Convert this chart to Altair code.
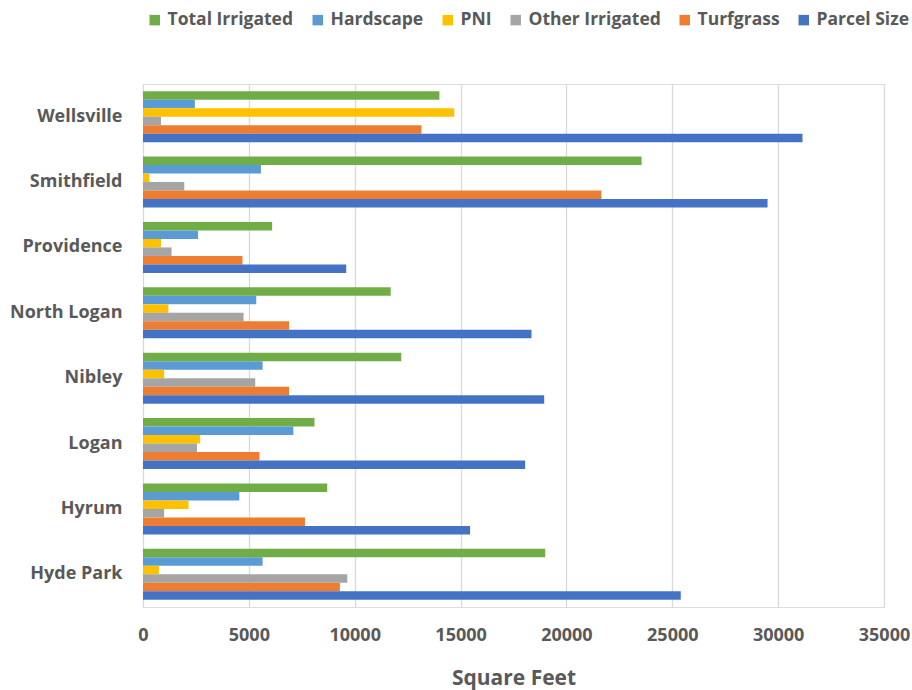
import altair as alt
import pandas as pd

cities = ["Wellsville", "Smithfield", "Providence", "North Logan", "Nibley", "Logan", "Hyrum", "Hyde Park"]
series = ["Total Irrigated", "Hardscape", "PNI", "Other Irrigated", "Turfgrass", "Parcel Size"]
colors = ["#70AD47", "#5B9BD5", "#FFC000", "#A5A5A5", "#ED7D31", "#4472C4"]

total_irrigated = [14000, 23550, 6100, 11700, 12200, 8100, 8700, 19000]
hardscape = [2450, 5570, 2600, 5350, 5650, 7100, 4550, 5650]
pni = [14700, 300, 850, 1200, 1000, 2700, 2150, 750]
other_irrigated = [850, 1950, 1350, 4750, 5300, 2550, 1000, 9650]
turfgrass = [13150, 21650, 4700, 6900, 6900, 5500, 7650, 9300]
parcel_size = [31150, 29500, 9600, 18350, 18950, 18050, 15450, 25400]

cols = [total_irrigated, hardscape, pni, other_irrigated, turfgrass, parcel_size]
rows = []
for s, vals in zip(series, cols):
    for c, v in zip(cities, vals):
        rows.append({"City": c, "Series": s, "Value": v})
df = pd.DataFrame(rows)

FONT = "Open Sans"
TXT = "#595959"

chart = alt.Chart(df).mark_bar().encode(
    y=alt.Y("City:N", sort=cities,
            scale=alt.Scale(paddingInner=0.22, paddingOuter=0.11),
            axis=alt.Axis(title=None, domain=False, ticks=False, labelPadding=21,
                          labelFont=FONT, labelFontSize=18, labelFontWeight="bold",
                          labelColor=TXT)),
    yOffset=alt.YOffset("Series:N", sort=series, scale=alt.Scale(paddingInner=0, paddingOuter=0)),
    x=alt.X("Value:Q", scale=alt.Scale(domain=[0, 35000]),
            axis=alt.Axis(title="Square Feet", values=[0, 5000, 10000, 15000, 20000, 25000, 30000, 35000],
                          format="d", domain=False, ticks=False, labelPadding=19, labelFlush=False,
                          labelOverlap=False,
                          labelFont=FONT, labelFontSize=18, labelFontWeight="bold", labelColor=TXT,
                          titleFont=FONT, titleFontSize=21, titleFontWeight="bold", titleColor=TXT,
                          titlePadding=23, gridColor="#D9D9D9", gridWidth=1.3)),
    color=alt.Color("Series:N", sort=series,
                    scale=alt.Scale(domain=series, range=colors),
                    legend=alt.Legend(title=None, orient="none", legendX=3, legendY=-73,
                                      direction="horizontal", columns=6, columnPadding=15,
                                      symbolType="square", symbolSize=110, symbolStrokeWidth=0,
                                      labelFont=FONT, labelFontSize=17.5, labelFontWeight="bold",
                                      labelColor=TXT, labelOffset=4, labelLimit=300)),
).properties(
    width=741, height=523,
    autosize=alt.AutoSizeParams(type="none"),
    padding={"left": 143, "top": 84, "right": 28, "bottom": 83},
).configure_view(
    stroke="#CFCFCF", strokeWidth=1.5
).configure(background="white")

chart.save("out.html", embed_options={"renderer": "svg", "actions": False})
